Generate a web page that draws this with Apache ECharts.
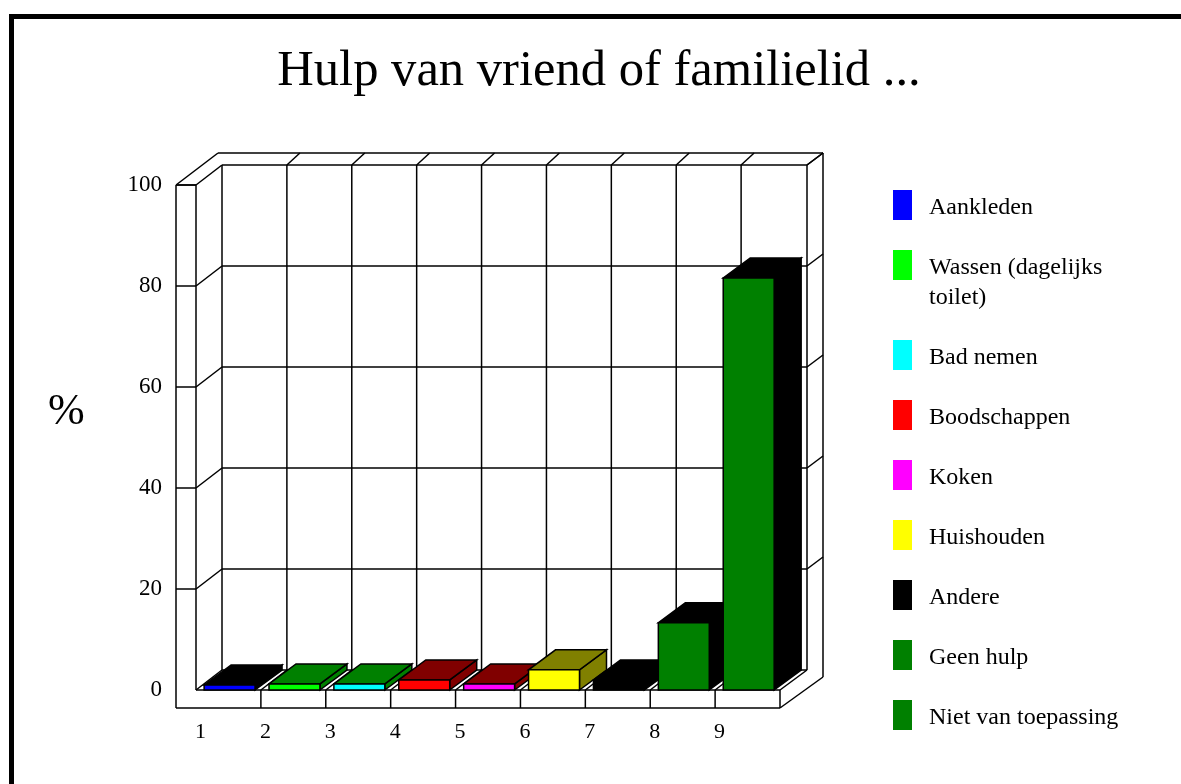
<!DOCTYPE html>
<html>
<head>
<meta charset="utf-8">
<title>Hulp van vriend of familielid</title>
<script src="https://cdn.jsdelivr.net/npm/echarts@6/dist/echarts.min.js"></script>
<style>
  html,body{margin:0;padding:0;background:#fff;}
  #main{width:1181px;height:784px;}
</style>
</head>
<body>
<div id="main"></div>
<script>
  // values (%)
  const barLabels = ['1','2','3','4','5','6','7','8','9'];
  const barNames = ['Aankleden','Wassen (dagelijks\ntoilet)','Bad nemen','Boodschappen','Koken','Huishouden','Andere','Geen hulp','Niet van toepassing'];
  const barValues = [1,1.2,1.2,2,1.2,4,2,13.3,81.6];
  const yTicks = [0,20,40,60,80,100];

  const frontColors = ['#0000ff','#00ff00','#00ffff','#ff0000','#ff00ff','#ffff00','#000000','#008000','#008000'];
  const shadeColors = ['#000000','#008000','#008000','#800000','#800000','#808000','#000000','#000000','#000000'];

  const FONT = '"Liberation Serif","Times New Roman",serif';
  const LINE = '#000';
  // depth of the box in pixels
  const wallDx = 26, wallDy = -20;
  const rimDx = 16, rimDy = -12;
  const panelW = 20, panelH = 18;
  const barDx = 27, barDy = -20;

  function line(x1,y1,x2,y2){
    return {type:'line',shape:{x1,y1,x2,y2},style:{stroke:LINE,lineWidth:1.5}};
  }

  function renderFrame(params,api){
    let kids = [];
    let bl = api.coord([0,0]), tl = api.coord([0,100]), br = api.coord([barLabels.length,0]);
    let wx = wallDx, wy = wallDy;
    let rx = wx+rimDx, ry = wy+rimDy;
    let rimBottom = bl[1]+panelH-31;
    // left panel
    kids.push(line(bl[0]-panelW,tl[1],bl[0]-panelW,bl[1]+panelH));
    kids.push(line(bl[0],tl[1],bl[0],bl[1]));
    kids.push(line(bl[0]-panelW,bl[1]+panelH,br[0],bl[1]+panelH));
    kids.push(line(bl[0]-panelW,tl[1],bl[0],tl[1]));
    // outer edges
    kids.push(line(bl[0]-panelW,tl[1],bl[0]+wx-4,tl[1]+ry));
    kids.push(line(bl[0]+wx-4,tl[1]+ry,br[0]+rx+1,tl[1]+ry));
    kids.push(line(br[0]+rx+1,tl[1]+ry,br[0]+rx+1,rimBottom));
    kids.push(line(br[0]+wx+1,tl[1]+wy,br[0]+rx+1,tl[1]+ry));
    kids.push(line(br[0],bl[1]+panelH,br[0]+rx+1,rimBottom));
    kids.push(line(br[0],bl[1],br[0],bl[1]+panelH));
    // back wall
    kids.push(line(br[0]+wx+1,tl[1]+wy,br[0]+wx+1,bl[1]+wy));
    kids.push(line(bl[0],bl[1],br[0],bl[1]));
    kids.push(line(br[0],bl[1],br[0]+wx+1,bl[1]+wy));
    // horizontal grid lines with the diagonals round the corners
    yTicks.forEach(t=>{
      let y = api.coord([0,t])[1];
      if(t > 0) kids.push(line(bl[0]-panelW,y,bl[0],y));
      kids.push(line(bl[0],y,bl[0]+wx,y+wy));
      kids.push(line(bl[0]+wx,y+wy,br[0]+wx+1,y+wy));
      if(t > 0) kids.push(line(br[0]+wx+1,y+wy,br[0]+rx+1,y+ry));
    });
    // vertical grid lines
    barLabels.forEach((d,i)=>{
      let x = api.coord([i,0])[0];
      kids.push(line(x+wx,tl[1]+wy,x+wx,bl[1]+wy));
      if(i > 0){
        kids.push(line(x,bl[1],x,bl[1]+panelH));
        kids.push(line(x,bl[1],x+wx,bl[1]+wy));
        kids.push(line(x+wx,tl[1]+wy,x+wx+13,tl[1]+ry));
      }
    });
    return {type:'group',children:kids};
  }

  function renderBar(params,api){
    let i = api.value(0), v = api.value(1);
    let a = api.coord([i+0.125,0]), b = api.coord([i+0.91,v]);
    let x0 = a[0], x1 = b[0], y0 = a[1], y1 = b[1];
    let st = (c)=>({fill:c,stroke:LINE,lineWidth:1.5,lineJoin:'miter'});
    return {type:'group',children:[
      {type:'polygon',shape:{points:[[x1,y0],[x1+barDx,y0+barDy],[x1+barDx,y1+barDy],[x1,y1]]},style:st(shadeColors[i])},
      {type:'polygon',shape:{points:[[x0,y1],[x1,y1],[x1+barDx,y1+barDy],[x0+barDx,y1+barDy]]},style:st(shadeColors[i])},
      {type:'rect',shape:{x:x0,y:y1,width:x1-x0,height:y0-y1},style:st(frontColors[i])}
    ]};
  }

  // legend, the wrapped entry takes one line extra so it can't be the normal legend
  function legendGraphics(){
    let out = [];
    let y = 190;
    barNames.forEach((n,i)=>{
      out.push({type:'rect',left:893,top:y,shape:{width:19,height:30},style:{fill:frontColors[i]}});
      out.push({type:'text',left:929,top:y+3,style:{text:n,fill:'#000',font:'24px '+FONT,lineHeight:30,textVerticalAlign:'top'}});
      y += n.indexOf('\n') > -1 ? 90 : 60;
    });
    return out;
  }

  let chart = echarts.init(document.getElementById('main'),null,{renderer:'canvas'});
  chart.setOption({
    animation:false,
    backgroundColor:'#fff',
    title:{
      text:'Hulp van vriend of familielid ...',
      left:594,
      top:41,
      textAlign:'center',
      textStyle:{fontFamily:FONT,fontSize:50.6,fontWeight:'normal',color:'#000'}
    },
    grid:{left:196,top:185,width:584,height:505},
    xAxis:{
      type:'value',
      min:0,
      max:barLabels.length,
      interval:1,
      splitLine:{show:false},
      axisLine:{show:false},
      axisTick:{show:false},
      axisLabel:{
        margin:31,
        padding:[0,0,0,9],
        fontFamily:FONT,
        fontSize:22,
        color:'#000',
        showMaxLabel:true,
        formatter:v=>barLabels[v] || ''
      }
    },
    yAxis:{
      type:'value',
      min:0,
      max:100,
      interval:20,
      splitLine:{show:false},
      axisLine:{show:false},
      axisTick:{show:false},
      axisLabel:{margin:34,padding:[2,0,0,0],fontFamily:FONT,fontSize:23,color:'#000'}
    },
    series:[
      {type:'custom',z:1,silent:true,renderItem:renderFrame,data:[[0,0]],encode:{x:0,y:1}},
      {type:'custom',z:2,silent:true,renderItem:renderBar,data:barValues.map((v,i)=>[i,v]),encode:{x:0,y:1}}
    ],
    graphic:[
      {type:'rect',left:9,top:14,shape:{width:5,height:770},style:{fill:'#000'}},
      {type:'rect',left:9,top:14,shape:{width:1172,height:5},style:{fill:'#000'}},
      {type:'text',left:48,top:390,style:{text:'%',fill:'#000',font:'44px '+FONT}}
    ].concat(legendGraphics())
  });
</script>
</body>
</html>
